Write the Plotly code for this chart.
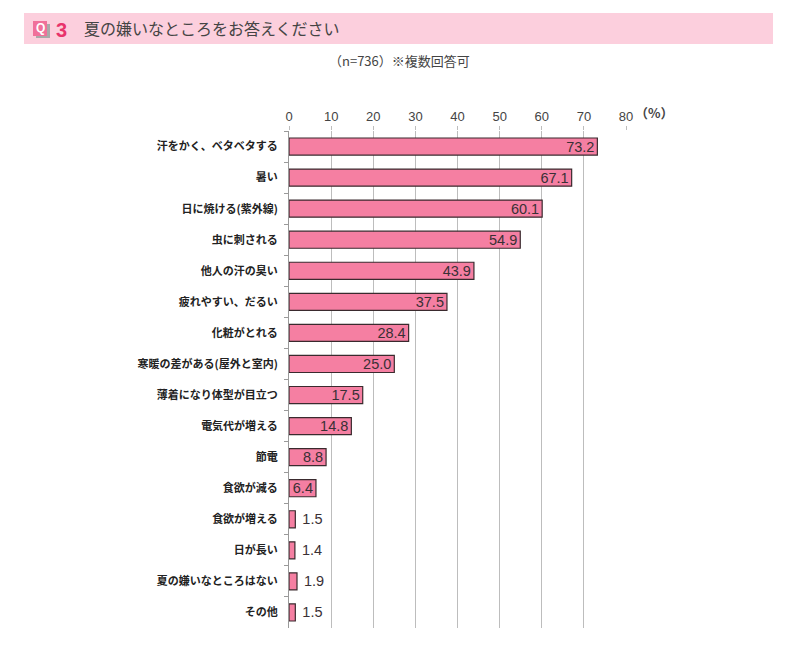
import plotly.graph_objects as go

# categories (top to bottom) and percentages
categories = [
    "汗をかく、ベタベタする", "暑い", "日に焼ける(紫外線)", "虫に刺される",
    "他人の汗の臭い", "疲れやすい、だるい", "化粧がとれる", "寒暖の差がある(屋外と室内)",
    "薄着になり体型が目立つ", "電気代が増える", "節電", "食欲が減る",
    "食欲が増える", "日が長い", "夏の嫌いなところはない", "その他",
]
values = [73.2, 67.1, 60.1, 54.9, 43.9, 37.5, 28.4, 25.0, 17.5, 14.8, 8.8, 6.4, 1.5, 1.4, 1.9, 1.5]
tick_vals = [0, 10, 20, 30, 40, 50, 60, 70, 80]

W, H = 800, 665
OFF = 8  # page body margin
# plot area in reference pixels
L0, R0, T0, B0 = 289, 626, 131, 628
L, R, T, B = L0 - OFF, R0 - OFF, T0 - OFF, B0 - OFF


def px(x):
    return (x - L0) / (R0 - L0)


def py(y):
    return (B0 - y) / (B0 - T0)


jp = "Noto Sans CJK JP"
num_font = "Liberation Sans, Arial"
inside = [v >= 5 for v in values]
labels = [f"{v:.1f}" if ins else f" {v:.1f}" for v, ins in zip(values, inside)]
positions = ["inside" if ins else "outside" for ins in inside]

fig = go.Figure(go.Bar(
    x=values, y=categories, orientation="h",
    marker=dict(color="#f57fa2", line=dict(color="#3a2a2e", width=1.2)),
    text=labels, textposition=positions, insidetextanchor="end",
    constraintext="none", cliponaxis=False,
    textfont=dict(family=num_font, size=14.5, color="#3a3035"),
    outsidetextfont=dict(family=num_font, size=14.5, color="#3a3035"),
    insidetextfont=dict(family=num_font, size=14.5, color="#3a3035"),
    width=0.55,
))

fig.update_layout(
    width=W, height=H,
    margin=dict(l=L, r=W - R, t=T, b=H - B),
    plot_bgcolor="white", paper_bgcolor="white",
    showlegend=False,
    font=dict(family=jp, color="#333333"),
    xaxis=dict(
        side="top", range=[0, 80], tickvals=tick_vals, showgrid=True,
        gridcolor="#bdbdbd", gridwidth=1, zeroline=False,
        ticks="outside", ticklen=4, tickcolor="#bdbdbd",
        tickfont=dict(family=num_font, size=13, color="#444444"),
        showline=False, fixedrange=True,
    ),
    yaxis=dict(
        autorange="reversed", showline=True, linecolor="#9a9a9a", linewidth=1,
        ticks="outside", ticklen=4, tickcolor="#9a9a9a", tickson="boundaries",
        ticklabelstandoff=8,
        tickfont=dict(family=jp, size=11, color="#222222", weight="bold"),
        showgrid=False, fixedrange=True,
    ),
)

# header band
fig.add_shape(type="rect", xref="paper", yref="paper",
              x0=px(24), x1=px(773), y0=py(44), y1=py(13),
              fillcolor="#fccfdd", line_width=0, layer="below")
# "Q" badge with shadow
fig.add_shape(type="rect", xref="paper", yref="paper",
              x0=px(36), x1=px(50), y0=py(38), y1=py(24),
              fillcolor="#a9a9a9", line_width=0)
fig.add_shape(type="rect", xref="paper", yref="paper",
              x0=px(33), x1=px(47), y0=py(36), y1=py(21),
              fillcolor="#f0709a", line_width=0)
fig.add_annotation(x=px(40), y=py(28.5), xref="paper", yref="paper",
                   xanchor="center", yanchor="middle",
                   text="<b>Q</b>", showarrow=False,
                   font=dict(family=num_font, size=12, color="white"))
fig.add_annotation(x=px(54), y=py(30), xref="paper", yref="paper",
                   xanchor="left", yanchor="middle",
                   text="<b>3</b>", showarrow=False,
                   font=dict(family=num_font, size=20, color="#e8336b"))
fig.add_annotation(x=px(82), y=py(28.5), xref="paper", yref="paper",
                   xanchor="left", yanchor="middle",
                   text="夏の嫌いなところをお答えください", showarrow=False,
                   font=dict(family=jp, size=16, color="#444444"))

# sample note and unit
fig.add_annotation(x=px(399), y=py(60), xref="paper", yref="paper",
                   xanchor="center", yanchor="middle",
                   text="（n=736）※複数回答可", showarrow=False,
                   font=dict(family=jp, size=13, color="#444444"))
fig.add_annotation(x=px(654), y=py(112), xref="paper", yref="paper",
                   xanchor="center", yanchor="middle",
                   text="<b>（%）</b>", showarrow=False,
                   font=dict(family=jp, size=13, color="#444444"))

fig.write_html("out.html")
